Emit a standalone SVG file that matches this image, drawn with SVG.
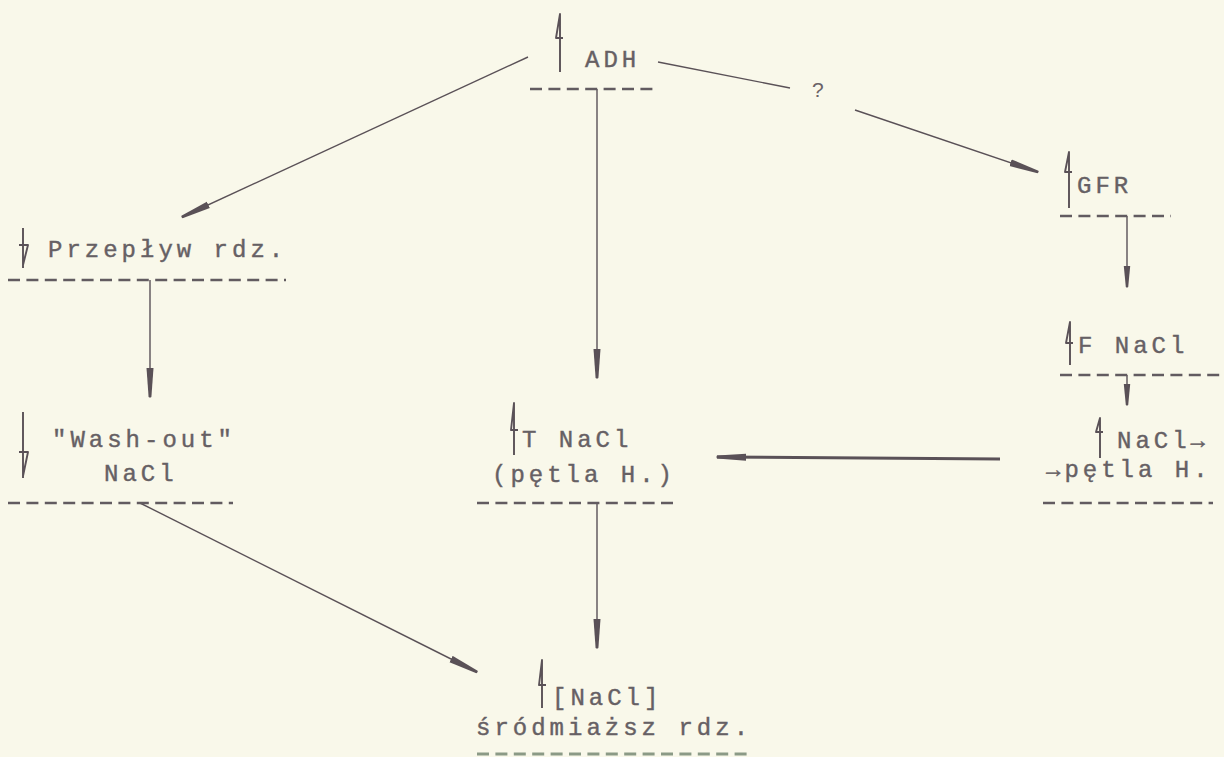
<svg xmlns="http://www.w3.org/2000/svg" width="1224" height="757" viewBox="0 0 1224 757">
<defs>
<style>
.t{font-family:"Liberation Mono","Courier New",monospace;font-size:24px;fill:#666064;stroke:#666064;stroke-width:0.4;letter-spacing:4px}
.q{font-family:"Liberation Sans",Arial,sans-serif;font-size:21px;fill:#6a6367}
.c{stroke:#5a5157;stroke-width:1.4;fill:none}
.d{stroke:#625b60;stroke-width:2.4;stroke-dasharray:12 6.4;fill:none}
.ind{stroke:#5a5157;stroke-width:1.9;fill:none;stroke-linejoin:round}
</style>
<marker id="ah" viewBox="0 0 30 8" refX="29" refY="4" markerWidth="30" markerHeight="8" markerUnits="userSpaceOnUse" orient="auto">
<path d="M0,0.5 L29,2.6 Q30,4 29,5.4 L0,7.5 Z" fill="#5a5157"/>
</marker>
<marker id="ahs" viewBox="0 0 22 8" refX="21" refY="4" markerWidth="22" markerHeight="8" markerUnits="userSpaceOnUse" orient="auto">
<path d="M0,0.8 L21,2.8 Q22,4 21,5.2 L0,7.2 Z" fill="#5a5157"/>
</marker>
</defs>
<rect width="1224" height="757" fill="#f9f8ea"/>

<g id="connectors">
<line class="c" x1="528" y1="57" x2="182" y2="217" marker-end="url(#ah)"/>
<line class="c" x1="597" y1="89" x2="597" y2="378" marker-end="url(#ah)"/>
<line class="c" x1="658" y1="62" x2="790" y2="88"/>
<text class="q" x="812" y="97">?</text>
<line class="c" x1="855" y1="110" x2="1038" y2="172" marker-end="url(#ah)"/>
<line class="c" x1="150" y1="280" x2="150" y2="397" marker-end="url(#ah)"/>
<line class="c" x1="140" y1="503" x2="477" y2="672" marker-end="url(#ah)"/>
<line class="c" x1="597" y1="503" x2="597" y2="648" marker-end="url(#ah)"/>
<line class="c" x1="1127" y1="216" x2="1127" y2="287" marker-end="url(#ahs)"/>
<line class="c" x1="1127" y1="375" x2="1127" y2="405" marker-end="url(#ahs)"/>
<line class="c" style="stroke-width:3" x1="1000" y1="459" x2="717" y2="457" marker-end="url(#ah)"/>
</g>

<g id="adh">
<path class="ind" d="M560,72 L560,14 L556,38 L563,38"/>
<text class="t" x="585" y="67">ADH</text>
<line class="d" x1="530" y1="89" x2="656" y2="89"/>
</g>

<g id="przeplyw">
<path class="ind" d="M23,228 L23,268 M19,245 L28,245 L23,265"/>
<text class="t" x="48" y="257">Przepływ rdz.</text>
<line class="d" x1="8" y1="280" x2="286" y2="280"/>
</g>

<g id="washout">
<path class="ind" d="M23,412 L23,478 M19,452 L28,452 L23,476"/>
<text class="t" x="52" y="447">"Wash-out"</text>
<text class="t" x="104" y="481">NaCl</text>
<line class="d" x1="8" y1="503" x2="233" y2="503"/>
</g>

<g id="tnacl">
<path class="ind" d="M514,455 L514,403 L511,430 L518,430"/>
<text class="t" x="522" y="447">T NaCl</text>
<text class="t" x="492" y="482">(pętla H.)</text>
<line class="d" x1="477" y1="503" x2="674" y2="503"/>
</g>

<g id="gfr">
<path class="ind" d="M1069,208 L1069,152 L1065,172 L1072,172"/>
<text class="t" x="1077" y="193">GFR</text>
<line class="d" x1="1060" y1="216" x2="1171" y2="216"/>
</g>

<g id="fnacl">
<path class="ind" d="M1070,365 L1070,322 L1066,343 L1073,343"/>
<text class="t" x="1078" y="353">F NaCl</text>
<line class="d" x1="1060" y1="375" x2="1224" y2="375"/>
</g>

<g id="nacl-petla">
<path class="ind" d="M1100,458 L1100,418 L1096,432 L1103,432"/>
<text class="t" x="1117" y="448">NaCl→</text>
<text class="t" x="1046" y="477">→pętla H.</text>
<line class="d" x1="1043" y1="503" x2="1213" y2="503"/>
</g>

<g id="nacl-srodmiazsz">
<path class="ind" d="M542,708 L542,660 L539,685 L546,685"/>
<text class="t" x="552" y="705">[NaCl]</text>
<text class="t" x="476" y="735">śródmiaższ rdz.</text>
<line class="d" style="stroke:#8b9a86;stroke-width:3" x1="477" y1="754" x2="750" y2="754"/>
</g>
</svg>
